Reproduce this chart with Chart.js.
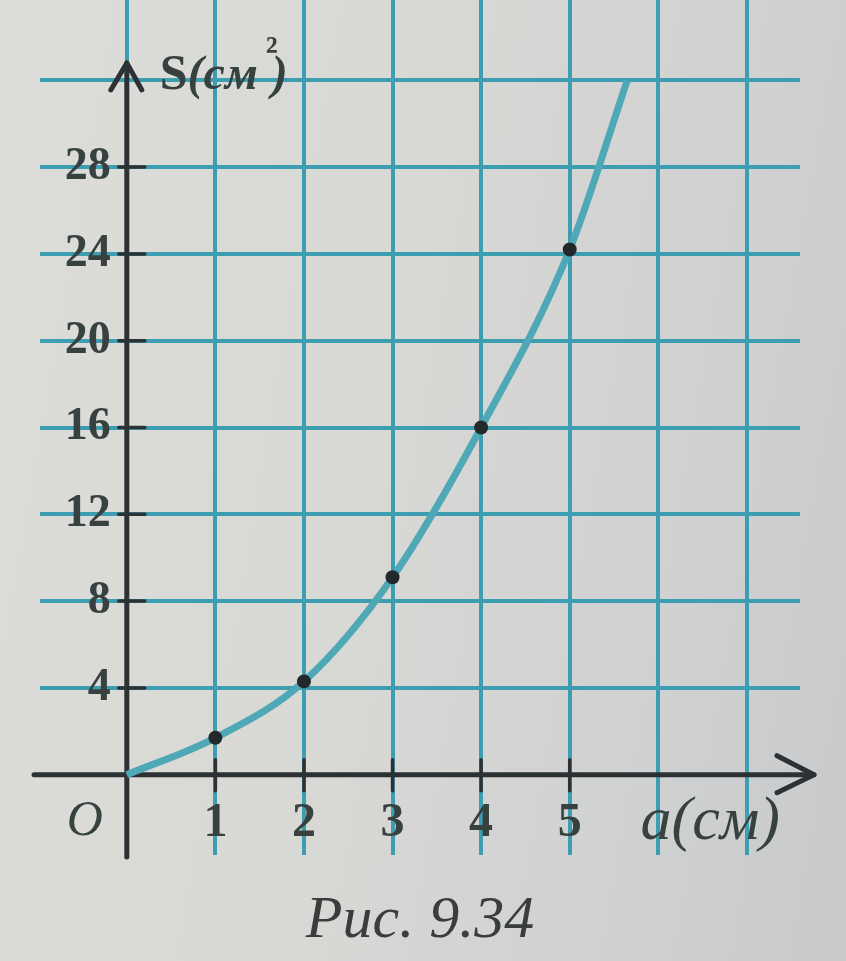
<!DOCTYPE html>
<html>
<head>
<meta charset="utf-8">
<script src="https://cdn.jsdelivr.net/npm/chart.js@4/dist/chart.umd.min.js"></script>
<style>
  html, body { margin: 0; padding: 0; }
  body {
    width: 846px; height: 961px; overflow: hidden;
    background: linear-gradient(100deg, #dcdcd8 0%, #d8d8d5 45%, #cfd0d1 80%, #c8c9cb 100%);
  }
  #wrap { position: absolute; left: 0; top: 0; width: 846px; height: 961px; }
</style>
</head>
<body>
<div id="wrap"><canvas id="c" width="846" height="961"></canvas></div>
<script>
// ---- data ----
const aValues = [0, 1, 2, 3, 4, 5, 5.65];          // side a, cm
const sValues = [0, 1.7, 4.3, 9.1, 16, 24.2, 32];  // area S, cm²
const markedA = [1, 2, 3, 4, 5];                    // points drawn as dots
const xTickLabels = [1, 2, 3, 4, 5];
const yTickLabels = [4, 8, 12, 16, 20, 24, 28];
const xTitle = 'a(см)';
const yTitleMain = 'S(см';
const yTitleSup = '²';
const originLabel = 'O';
const caption = 'Рис. 9.34';

// ---- styles ----
const GRID = '#3e9eb1';
const CURVE = '#4ea8b6';
const AXIS = '#2c3234';
const TEXT = '#37413f';
const SERIF = '"Liberation Serif", "DejaVu Serif", serif';

const noPad = s => { s.paddingTop = 0; s.paddingBottom = 0; s.paddingLeft = 0; s.paddingRight = 0; };

const decor = {
  id: 'decor',
  beforeDatasetsDraw(chart) {
    const { ctx, chartArea, scales: { x, y } } = chart;
    const x0 = x.getPixelForValue(0), y0 = y.getPixelForValue(0);
    ctx.save();
    ctx.strokeStyle = AXIS;
    ctx.lineCap = 'round';
    ctx.lineJoin = 'round';
    ctx.lineWidth = 5;
    // y axis with arrow
    const yTip = y.getPixelForValue(32.8);
    ctx.beginPath(); ctx.moveTo(x0, chartArea.bottom + 2); ctx.lineTo(x0, yTip); ctx.stroke();
    ctx.beginPath(); ctx.moveTo(x0 - 16, yTip + 27); ctx.lineTo(x0, yTip); ctx.lineTo(x0 + 15, yTip + 27); ctx.stroke();
    // x axis with arrow
    const xTip = chartArea.right + 14;
    ctx.beginPath(); ctx.moveTo(chartArea.left - 6, y0); ctx.lineTo(xTip, y0); ctx.stroke();
    ctx.beginPath(); ctx.moveTo(xTip - 37, y0 - 19); ctx.lineTo(xTip, y0); ctx.lineTo(xTip - 37, y0 + 18); ctx.stroke();
    // tick marks
    ctx.lineWidth = 3.5;
    yTickLabels.forEach(v => {
      const py = y.getPixelForValue(v);
      ctx.beginPath(); ctx.moveTo(x0 - 8, py); ctx.lineTo(x0 + 18, py); ctx.stroke();
    });
    xTickLabels.forEach(v => {
      const px = x.getPixelForValue(v);
      ctx.beginPath(); ctx.moveTo(px, y0 - 15); ctx.lineTo(px, y0 + 16); ctx.stroke();
    });
    ctx.restore();
  },
  afterDraw(chart) {
    const { ctx, scales: { x, y } } = chart;
    const x0 = x.getPixelForValue(0), y0 = y.getPixelForValue(0);
    ctx.save();
    ctx.fillStyle = TEXT;
    ctx.textBaseline = 'alphabetic';
    // y title
    let px = x0 + 33, base = y.getPixelForValue(32.8) + 26;
    ctx.font = 'bold 50px ' + SERIF;
    ctx.fillText('S', px, base);
    px += ctx.measureText('S').width;
    ctx.font = 'italic bold 48px ' + SERIF;
    const rest = yTitleMain.slice(1);
    ctx.fillText(rest, px, base);
    px += ctx.measureText(rest).width + 8;
    ctx.font = 'bold 40px ' + SERIF;
    ctx.fillText(yTitleSup, px, base - 26);
    ctx.font = 'italic bold 48px ' + SERIF;
    ctx.fillText(')', px + 6, base);
    // x title
    ctx.font = 'italic 62px ' + SERIF;
    ctx.fillText(xTitle, x.getPixelForValue(5.8), y0 + 64);
    // origin
    ctx.font = 'italic 50px ' + SERIF;
    ctx.textAlign = 'right';
    ctx.fillText(originLabel, x0 - 24, y0 + 60);
    ctx.restore();
  }
};

new Chart(document.getElementById('c'), {
  type: 'line',
  data: {
    datasets: [{
      data: aValues.map((a, i) => ({ x: a, y: sValues[i] })),
      borderColor: CURVE,
      borderWidth: 7,
      cubicInterpolationMode: 'monotone',
      pointRadius: ctx => markedA.includes(aValues[ctx.dataIndex]) ? 7 : 0,
      pointBackgroundColor: '#23292b',
      pointBorderWidth: 0,
      clip: false
    }]
  },
  options: {
    responsive: false,
    animation: false,
    devicePixelRatio: 1,
    layout: { padding: { left: 40, right: 46, top: 0, bottom: 0 } },
    plugins: {
      legend: { display: false },
      tooltip: { enabled: false },
      title: {
        display: true,
        text: caption,
        position: 'bottom',
        color: '#3a3d3d',
        font: { family: SERIF, size: 60, style: 'italic', weight: 'normal' },
        padding: { top: 30, bottom: 4 }
      }
    },
    scales: {
      x: {
        type: 'linear',
        position: { y: 0 },
        min: -0.98, max: 7.6,
        afterFit: noPad,
        grid: { color: GRID, lineWidth: 4, drawTicks: false },
        border: { display: false },
        ticks: {
          stepSize: 1, includeBounds: false, autoSkip: false, maxRotation: 0,
          padding: 20, color: TEXT,
          font: { family: SERIF, size: 48, weight: 'bold' },
          callback: v => xTickLabels.includes(v) ? String(v) : ''
        }
      },
      y: {
        type: 'linear',
        position: { x: -0.18 },
        min: -3.7, max: 35.7,
        afterFit: noPad,
        grid: { color: GRID, lineWidth: 4, drawTicks: false },
        border: { display: false },
        ticks: {
          stepSize: 4, includeBounds: false, autoSkip: false,
          padding: 0, color: TEXT,
          font: { family: SERIF, size: 46, weight: 'bold' },
          callback: v => yTickLabels.includes(v) ? String(v) : ''
        }
      }
    }
  },
  plugins: [decor]
});
</script>
</body>
</html>
